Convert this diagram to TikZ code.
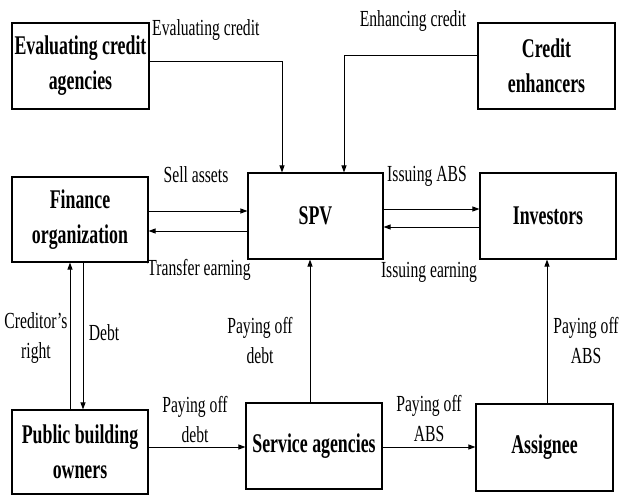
\documentclass[tikz,border=0pt]{standalone}
\usepackage{fontspec}
\setmainfont{Liberation Serif}
\newfontfamily\boxfont[FakeStretch=0.66]{Liberation Serif}
\newfontfamily\lblfont[FakeStretch=0.68]{Liberation Serif}
\usetikzlibrary{arrows.meta}
\begin{document}
\begin{tikzpicture}[x=1pt,y=-1pt,
  box/.style={draw, line width=1.1pt, inner sep=0pt, align=center,
    font=\boxfont\fontsize{27}{35}\selectfont\bfseries},
  lbl/.style={inner sep=0pt, align=center, font=\lblfont\fontsize{23}{30}\selectfont},
  arr/.style={line width=0.9pt, -{Triangle[length=7pt,width=5pt]}}]
\useasboundingbox (0,0) rectangle (619,495);
% boxes
\node[box, minimum width=137pt, minimum height=86pt] (eval) at (80.5,66) {Evaluating credit\\agencies};
\node[box, minimum width=137pt, minimum height=86pt] (enh) at (546.5,66) {Credit\\enhancers};
\node[box, minimum width=136pt, minimum height=85pt] (fin) at (80,219.5) {Finance\\organization};
\node[box, minimum width=135pt, minimum height=86pt] (spv) at (315.5,216) {SPV};
\node[box, minimum width=136pt, minimum height=86pt] (inv) at (548,216) {Investors};
\node[box, minimum width=136pt, minimum height=84pt] (pub) at (80,452) {Public building\\owners};
\node[box, minimum width=136pt, minimum height=86pt] (serv) at (314,446) {Service agencies};
\node[box, minimum width=137pt, minimum height=87pt] (asg) at (544.5,447.5) {Assignee};
% connectors
\draw[arr] (eval.east |- 0,61) -| (spv.north -| 282,0);
\draw[arr] (enh.west |- 0,55) -| (spv.north -| 344,0);
\draw[arr] (fin.east |- 0,211) -- (spv.west |- 0,211);
\draw[arr] (spv.west |- 0,231) -- (fin.east |- 0,231);
\draw[arr] (spv.east |- 0,209) -- (inv.west |- 0,209);
\draw[arr] (inv.west |- 0,227) -- (spv.east |- 0,227);
\draw[arr] (pub.north -| 70,0) -- (fin.south -| 70,0);
\draw[arr] (fin.south -| 83,0) -- (pub.north -| 83,0);
\draw[arr] (pub.east |- 0,447) -- (serv.west |- 0,447);
\draw[arr] (serv.east |- 0,447) -- (asg.west |- 0,447);
\draw[arr] (serv.north -| 310,0) -- (spv.south -| 310,0);
\draw[arr] (asg.north -| 547,0) -- (inv.south -| 547,0);
% labels
\node[lbl, anchor=west] (l1) at (152,30) {Evaluating credit};
\node[lbl] (l2) at (413,21) {Enhancing credit};
\node[lbl] (l3) at (196,175) {Sell assets};
\node[lbl] (l4) at (199,270) {Transfer earning};
\node[lbl] (l5) at (427,176) {Issuing ABS};
\node[lbl] (l6) at (429,272) {Issuing earning};
\node[lbl] (l7) at (36,338) {Creditor’s\\right};
\node[lbl] (l8) at (104,333) {Debt};
\node[lbl] (l9) at (260,341) {Paying off\\debt};
\node[lbl] (l10) at (586,341) {Paying off\\ABS};
\node[lbl] (l11) at (195,420) {Paying off\\debt};
\node[lbl] (l12) at (429,419) {Paying off\\ABS};
\end{tikzpicture}
\end{document}
